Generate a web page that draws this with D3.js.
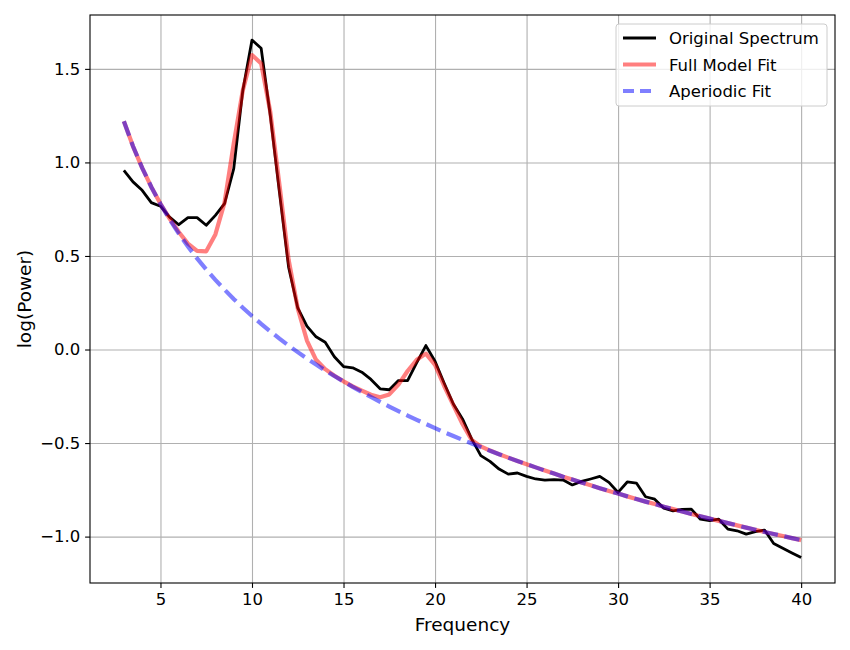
<!DOCTYPE html>
<meta charset="utf-8">
<script src="https://d3js.org/d3.v7.min.js"></script>
<style>
  body { margin: 0; background: #fff; }
  text { font-family: "DejaVu Sans", sans-serif; }
</style>
<div id="my_dataviz"></div>
<script>

  // frequency grid (Hz)
  var freqs = [3, 3.5, 4, 4.5, 5, 5.5, 6, 6.5, 7, 7.5, 8, 8.5, 9, 9.5, 10, 10.5, 11, 11.5, 12, 12.5,
    13, 13.5, 14, 14.5, 15, 15.5, 16, 16.5, 17, 17.5, 18, 18.5, 19, 19.5, 20, 20.5, 21, 21.5, 22, 22.5,
    23, 23.5, 24, 24.5, 25, 25.5, 26, 26.5, 27, 27.5, 28, 28.5, 29, 29.5, 30, 30.5, 31, 31.5, 32, 32.5,
    33, 33.5, 34, 34.5, 35, 35.5, 36, 36.5, 37, 37.5, 38, 38.5, 39, 39.5, 40]

  // log power
  var spectrum = [0.958, 0.896, 0.851, 0.785, 0.766, 0.708, 0.667, 0.705, 0.705, 0.664, 0.717, 0.780,
    0.965, 1.386, 1.654, 1.610, 1.250, 0.840, 0.440, 0.222, 0.125, 0.068, 0.039, -0.039, -0.091, -0.098,
    -0.121, -0.160, -0.210, -0.215, -0.166, -0.166, -0.070, 0.021, -0.063, -0.180, -0.291, -0.371, -0.478,
    -0.567, -0.598, -0.639, -0.666, -0.660, -0.678, -0.692, -0.698, -0.695, -0.698, -0.724, -0.705, -0.692,
    -0.678, -0.710, -0.764, -0.708, -0.714, -0.787, -0.800, -0.848, -0.862, -0.855, -0.853, -0.907, -0.915,
    -0.907, -0.960, -0.969, -0.987, -0.973, -0.965, -1.037, -1.062, -1.087, -1.112]

  var fullFit = [1.220, 1.086, 0.971, 0.869, 0.779, 0.700, 0.628, 0.566, 0.527, 0.525, 0.615, 0.785,
    1.100, 1.386, 1.574, 1.529, 1.270, 0.880, 0.480, 0.220, 0.048, -0.055, -0.105, -0.140, -0.170, -0.197,
    -0.220, -0.242, -0.255, -0.240, -0.188, -0.115, -0.055, -0.022, -0.082, -0.195, -0.297, -0.398, -0.484,
    -0.518, -0.540, -0.560, -0.578, -0.596, -0.613, -0.630, -0.647, -0.663, -0.680, -0.695, -0.711, -0.726,
    -0.741, -0.756, -0.770, -0.785, -0.799, -0.813, -0.826, -0.840, -0.853, -0.866, -0.879, -0.891, -0.904,
    -0.916, -0.928, -0.940, -0.952, -0.963, -0.975, -0.986, -0.997, -1.008, -1.019]

  var aperiodic = [1.220, 1.086, 0.971, 0.869, 0.778, 0.696, 0.620, 0.551, 0.487, 0.428, 0.372, 0.320,
    0.270, 0.223, 0.179, 0.137, 0.097, 0.058, 0.021, -0.014, -0.048, -0.080, -0.112, -0.142, -0.171, -0.200,
    -0.227, -0.254, -0.280, -0.305, -0.329, -0.353, -0.376, -0.398, -0.420, -0.442, -0.462, -0.483, -0.502,
    -0.522, -0.541, -0.560, -0.578, -0.596, -0.613, -0.630, -0.647, -0.663, -0.680, -0.695, -0.711, -0.726,
    -0.741, -0.756, -0.770, -0.785, -0.799, -0.813, -0.826, -0.840, -0.853, -0.866, -0.879, -0.891, -0.904,
    -0.916, -0.928, -0.940, -0.952, -0.963, -0.975, -0.986, -0.997, -1.008, -1.019]

  var xTicks = [5, 10, 15, 20, 25, 30, 35, 40]
  var yTicks = [-1.0, -0.5, 0.0, 0.5, 1.0, 1.5]
  var seriesNames = ["Original Spectrum", "Full Model Fit", "Aperiodic Fit"]

  // set the dimensions and margins of the graph
  var margin = {top: 15, right: 15, bottom: 67, left: 90},
    width = 850 - margin.left - margin.right,
    height = 650 - margin.top - margin.bottom;

  var svg = d3.select("#my_dataviz")
    .append("svg")
      .attr("width", 850)
      .attr("height", 650)
    .append("g")
      .attr("transform", "translate(" + margin.left + "," + margin.top + ")");

  var x = d3.scaleLinear().domain([1.15, 41.85]).range([0, width])
  var y = d3.scaleLinear().domain([-1.248, 1.788]).range([height, 0])

  // grid
  svg.append("g")
    .attr("transform", "translate(0," + height + ")")
    .call(d3.axisBottom(x).tickValues(xTicks).tickSize(-height).tickFormat(""))
    .call(function(g) { g.select(".domain").remove() })
    .selectAll("line").attr("stroke", "#b0b0b0").attr("stroke-width", 1.1)
  svg.append("g")
    .call(d3.axisLeft(y).tickValues(yTicks).tickSize(-width).tickFormat(""))
    .call(function(g) { g.select(".domain").remove() })
    .selectAll("line").attr("stroke", "#b0b0b0").attr("stroke-width", 1.1)

  // lines
  var line = function(vals) {
    return d3.line()
      .x(function(d, i) { return x(freqs[i]) })
      .y(function(d) { return y(d) })(vals)
  }
  svg.append("path").attr("d", line(spectrum))
    .attr("fill", "none").attr("stroke", "black").attr("stroke-width", 2.8)
    .attr("stroke-linejoin", "round")
  svg.append("path").attr("d", line(fullFit))
    .attr("fill", "none").attr("stroke", "red").attr("stroke-opacity", 0.5).attr("stroke-width", 4.2)
    .attr("stroke-linejoin", "round")
  svg.append("path").attr("d", line(aperiodic))
    .attr("fill", "none").attr("stroke", "blue").attr("stroke-opacity", 0.5).attr("stroke-width", 4.2)
    .attr("stroke-dasharray", "15.4,6.7")

  // axes
  var xAxis = svg.append("g")
    .attr("transform", "translate(0," + height + ")")
    .call(d3.axisBottom(x).tickValues(xTicks).tickSize(4.9).tickPadding(4.9).tickSizeOuter(0).tickFormat(d3.format("d")))
  var yAxis = svg.append("g")
    .call(d3.axisLeft(y).tickValues(yTicks).tickSize(4.9).tickPadding(4.9).tickSizeOuter(0).tickFormat(d3.format(".1f")))
  svg.selectAll(".tick text").attr("font-size", 16.5).attr("font-family", "DejaVu Sans").attr("fill", "black")
  svg.selectAll(".tick line").attr("stroke-width", 1.1)
  xAxis.select(".domain").remove()
  yAxis.select(".domain").remove()

  // frame
  svg.append("rect")
    .attr("x", 0).attr("y", 0).attr("width", width).attr("height", height)
    .attr("fill", "none").attr("stroke", "black").attr("stroke-width", 1.1)

  // axis labels
  svg.append("text")
    .attr("x", width / 2).attr("y", height + 48)
    .attr("text-anchor", "middle").attr("font-size", 18.5)
    .text("Frequency")
  svg.append("text")
    .attr("transform", "translate(" + (31 - margin.left) + "," + (height / 2) + ") rotate(-90)")
    .attr("text-anchor", "middle").attr("font-size", 18.5)
    .text("log(Power)")

  // legend
  var legend = svg.append("g").attr("transform", "translate(" + (616 - margin.left) + "," + (24 - margin.top) + ")")
  legend.append("rect")
    .attr("width", 211).attr("height", 82).attr("rx", 3)
    .attr("fill", "white").attr("fill-opacity", 0.8)
    .attr("stroke", "#cccccc")
  var styles = [
    {stroke: "black", op: 1, w: 2.8, dash: null},
    {stroke: "red", op: 0.5, w: 4.2, dash: null},
    {stroke: "blue", op: 0.5, w: 4.2, dash: "11,6"}
  ]
  seriesNames.forEach(function(name, i) {
    var cy = 14 + i * 26.5
    legend.append("line")
      .attr("x1", 7).attr("x2", 40).attr("y1", cy).attr("y2", cy)
      .attr("stroke", styles[i].stroke).attr("stroke-opacity", styles[i].op)
      .attr("stroke-width", styles[i].w).attr("stroke-dasharray", styles[i].dash)
    legend.append("text")
      .attr("x", 53).attr("y", cy + 6)
      .attr("font-size", 16.5)
      .text(name)
  })

</script>
